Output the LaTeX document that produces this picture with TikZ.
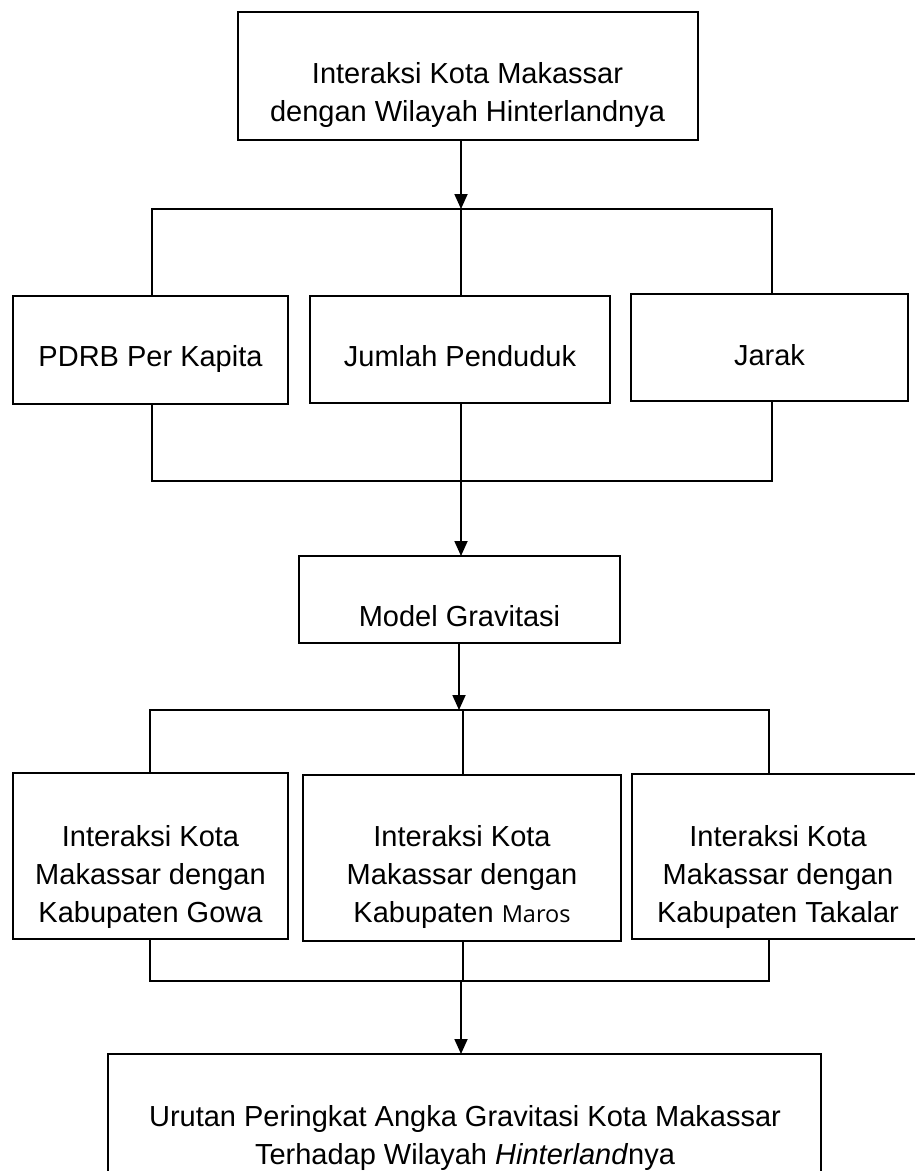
\documentclass[tikz,border=0pt]{standalone}
\usepackage{fontspec}
\setmainfont{Liberation Sans}
\newfontfamily\marosfont{Open Sans}
\usetikzlibrary{arrows.meta}
\begin{document}
\begin{tikzpicture}[x=1pt,y=-1pt,
  box/.style={draw, line width=2pt, inner sep=0pt, outer sep=0pt},
  conn/.style={line width=1.8pt},
  arr/.style={conn, -{Triangle[length=15pt,width=13pt]}},
  txt/.style={anchor=base, inner sep=0pt, font=\fontsize{29}{38}\selectfont}]
\useasboundingbox (0,0) rectangle (915,1171);
\clip (0,0) rectangle (915,1171);
% boxes
\node[box, minimum width=460pt, minimum height=128pt] (top) at (468,76) {};
\node[box, minimum width=275pt, minimum height=108pt] (pdrb) at (150.5,350) {};
\node[box, minimum width=300pt, minimum height=107pt] (jumlah) at (460,349.5) {};
\node[box, minimum width=277pt, minimum height=107pt] (jarak) at (769.5,347.5) {};
\node[box, minimum width=321pt, minimum height=87pt] (model) at (459.5,599.5) {};
\node[box, minimum width=275pt, minimum height=166pt] (gowa) at (150.5,856) {};
\node[box, minimum width=318pt, minimum height=166pt] (maros) at (462,858) {};
\node[box, minimum width=292pt, minimum height=165pt] (takalar) at (778,856.5) {};
\node[box, minimum width=713pt, minimum height=140pt] (hasil) at (464.5,1124) {};
% junction coordinates
\coordinate (a1L) at (152,209);
\coordinate (a1M) at (461,209);
\coordinate (a1R) at (772,209);
\coordinate (b1L) at (152,481);
\coordinate (b1M) at (461,481);
\coordinate (b1R) at (772,481);
\coordinate (a2L) at (150,710);
\coordinate (a2A) at (459,710);
\coordinate (a2M) at (463,710);
\coordinate (a2R) at (769,710);
\coordinate (b2L) at (150,981);
\coordinate (b2M) at (463,981);
\coordinate (b2A) at (461,981);
\coordinate (b2R) at (769,981);
% connectors
\draw[arr] (top.south -| a1M) -- (a1M);
\draw[conn] (pdrb.north -| a1L) |- (a1R) -- (jarak.north -| a1R);
\draw[conn] (a1M) -- (jumlah.north -| a1M);
\draw[conn] (pdrb.south -| b1L) |- (b1R) -- (jarak.south -| b1R);
\draw[conn] (jumlah.south -| b1M) -- (b1M);
\draw[arr] (b1M) -- (model.north -| b1M);
\draw[arr] (model.south -| a2A) -- (a2A);
\draw[conn] (gowa.north -| a2L) |- (a2R) -- (takalar.north -| a2R);
\draw[conn] (a2M) -- (maros.north -| a2M);
\draw[conn] (gowa.south -| b2L) |- (b2R) -- (takalar.south -| b2R);
\draw[conn] (maros.south -| b2M) -- (b2M);
\draw[arr] (b2A) -- (hasil.north -| b2A);
% texts
\node[txt] (t1a) at (467.5,83) {Interaksi Kota Makassar};
\node[txt] (t1b) at (467.5,121) {dengan Wilayah Hinterlandnya};
\node[txt] (t2) at (150.5,366) {PDRB Per Kapita};
\node[txt] (t3) at (460,366) {Jumlah Penduduk};
\node[txt] (t4) at (769.5,365) {Jarak};
\node[txt] (t5) at (459.5,626) {Model Gravitasi};
\node[txt] (t6a) at (150.5,846) {Interaksi Kota};
\node[txt] (t6b) at (150.5,884) {Makassar dengan};
\node[txt] (t6c) at (150.5,922) {Kabupaten Gowa};
\node[txt] (t7a) at (462,846) {Interaksi Kota};
\node[txt] (t7b) at (462,884) {Makassar dengan};
\node[txt] (t7c) at (462,922) {Kabupaten {\marosfont\fontsize{23.5}{30}\selectfont Maros}};
\node[txt] (t8a) at (778,846) {Interaksi Kota};
\node[txt] (t8b) at (778,884) {Makassar dengan};
\node[txt] (t8c) at (778,922) {Kabupaten Takalar};
\node[txt] (t9a) at (465,1126) {Urutan Peringkat Angka Gravitasi Kota Makassar};
\node[txt] (t9b) at (465,1164) {Terhadap Wilayah \textit{Hinterland}nya};
\end{tikzpicture}
\end{document}
